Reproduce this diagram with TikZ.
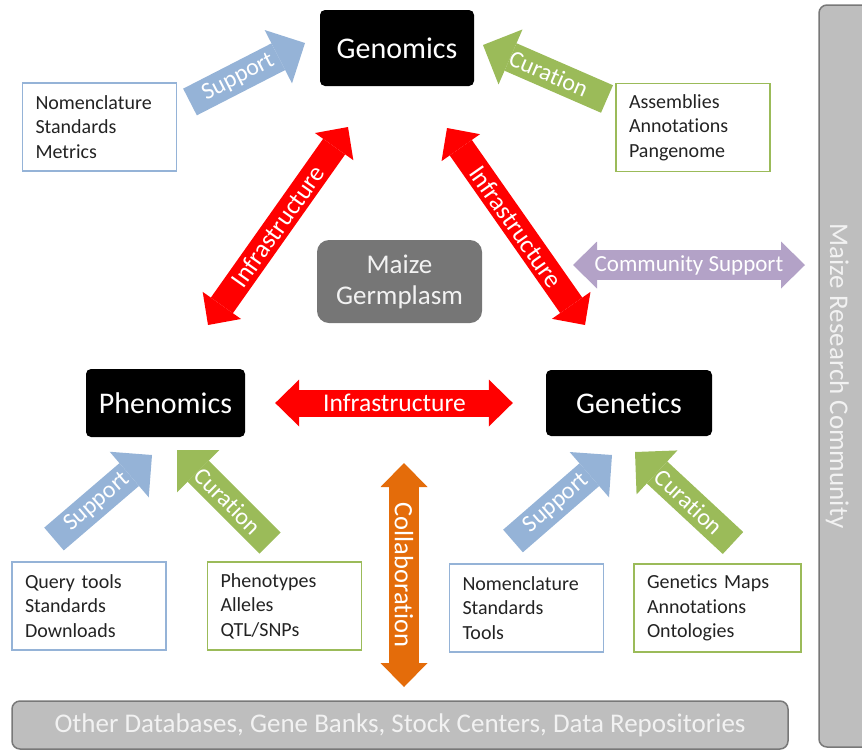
\documentclass[tikz,border=0pt]{standalone}
\usepackage{fontspec}
\setmainfont{Carlito}[Ligatures=NoCommon]
\usepackage{tikz}
\usetikzlibrary{arrows.meta,positioning,calc}
\definecolor{MzRed}{RGB}{255,0,0}
\definecolor{MzBlue}{RGB}{149,179,215}
\definecolor{MzGreen}{RGB}{155,187,89}
\definecolor{MzLilac}{RGB}{179,162,199}
\definecolor{MzOrange}{RGB}{228,108,10}
\definecolor{MzGerm}{RGB}{118,118,118}
\definecolor{MzBar}{RGB}{190,190,190}
\definecolor{MzEdge}{RGB}{120,120,120}
\definecolor{MzPale}{RGB}{242,242,242}
\definecolor{MzInk}{RGB}{35,35,35}

\begin{document}
\begin{tikzpicture}[
  x=1pt,y=-1pt,
  core/.style={rounded corners=5pt,fill=black,text=white,inner sep=0pt,
               font=\fontsize{30}{36}\selectfont},
  germ/.style={rounded corners=12pt,fill=MzGerm,text=MzPale,align=center,inner sep=0pt,
               minimum width=165pt,minimum height=83pt,font=\fontsize{27}{31}\selectfont},
  list/.style={draw,line width=1.5pt,align=left,text width=128pt,inner xsep=13pt,
               minimum height=88pt,font=\fontsize{20}{24.5}\selectfont,text=MzInk},
  bar/.style={rounded corners=8pt,draw=MzEdge,line width=1.5pt,fill=MzBar,text=MzPale,
              font=\fontsize{27}{30}\selectfont},
  feed/.style={line width=30pt,-{Triangle[length=30pt,width=60pt,line width=0pt]}},
  link/.style={line width=27pt,{Triangle[length=24pt,width=47pt,line width=0pt]}-{Triangle[length=24pt,width=47pt,line width=0pt]}},
  word/.style={text=white,font=\fontsize{24}{24}\selectfont}
]
\useasboundingbox (0,0) rectangle (862,750);

\node[core,minimum width=154pt,minimum height=76pt] (gen) at (397,48) {Genomics};
\node[core,minimum width=159pt,minimum height=68pt] (phe) at (165.5,403) {Phenomics};
\node[core,minimum width=166pt,minimum height=66pt] (gtc) at (629,403) {Genetics};
\node[germ] (mzg) at (399.5,281.5) {Maize\\Germplasm};

\node[list,draw=MzBlue] (gens) at (99.5,127) {Nomenclature\\Standards\\Metrics};
\node[list,draw=MzGreen] (genc) at (693,127.5) {Assemblies\\Annotations\\Pangenome};
\node[list,draw=MzBlue] (phes) at (89,606) {Query tools\\Standards\\Downloads};
\node[list,draw=MzGreen,right=40pt of phes] (phec) {Phenotypes\\Alleles\\QTL/SNPs};
\node[list,draw=MzBlue] (gtcs) at (526.5,608) {Nomenclature\\Standards\\Tools};
\node[list,draw=MzGreen,text width=141pt,right=29pt of gtcs] (gtcc) {Genetics Maps\\Annotations\\Ontologies};

\node[bar,minimum width=776pt,minimum height=48pt] (odb) at (400,725) {Other Databases, Gene Banks, Stock Centers, Data Repositories};
\node[bar,rotate=-90,minimum width=742pt,minimum height=60pt,text height=40pt,text depth=2pt] (mrc) at (849,376) {Maize Research Community};

\coordinate (gs1) at (190,102); \coordinate (gs2) at (305,43);
\coordinate (gc1) at (607,99);  \coordinate (gc2) at (483,45);
\coordinate (ps1) at (54,539);  \coordinate (ps2) at (152,455);
\coordinate (pc1) at (270,543); \coordinate (pc2) at (177,450);
\coordinate (ts1) at (513,541); \coordinate (ts2) at (612,455);
\coordinate (tc1) at (733,543); \coordinate (tc2) at (635,452);
\coordinate (il1) at (208,325); \coordinate (il2) at (348,127);
\coordinate (ir1) at (447,128); \coordinate (ir2) at (585,325);
\coordinate (cs1) at (573,265); \coordinate (cs2) at (805,265);
\coordinate (co1) at (404,463); \coordinate (co2) at (404,687);

\draw[feed,MzBlue] (gs1) -- (gs2) node[word,sloped,pos=0.42] {Support};
\draw[feed,MzGreen] (gc1) -- (gc2) node[word,sloped,pos=0.47] {Curation};
\draw[feed,MzBlue] (ps1) -- (ps2) node[word,sloped,pos=0.44] {Support};
\draw[feed,MzGreen] (pc1) -- (pc2) node[word,sloped,pos=0.45] {Curation};
\draw[feed,MzBlue] (ts1) -- (ts2) node[word,sloped,pos=0.44] {Support};
\draw[feed,MzGreen] (tc1) -- (tc2) node[word,sloped,pos=0.45] {Curation};

\draw[link,MzRed] (il1) -- (il2) node[word,sloped,midway,font=\fontsize{25.5}{26}\selectfont] {Infrastructure};
\draw[link,MzRed] (ir1) -- (ir2) node[word,sloped,midway,font=\fontsize{25.5}{26}\selectfont] {Infrastructure};
\draw[link,MzRed,shorten <=30pt,shorten >=33pt] (phe) -- (gtc) node[word,midway,xshift=-1pt,font=\fontsize{25.5}{26}\selectfont] {Infrastructure};
\draw[link,MzLilac,line width=30pt] (cs1) -- (cs2) node[word,midway,font=\fontsize{23}{23}\selectfont] {Community Support};
\draw[link,MzOrange,line width=30pt] (co1) -- (co2) node[word,midway,rotate=-90,font=\fontsize{26.5}{27}\selectfont] {Collaboration};
\end{tikzpicture}
\end{document}
